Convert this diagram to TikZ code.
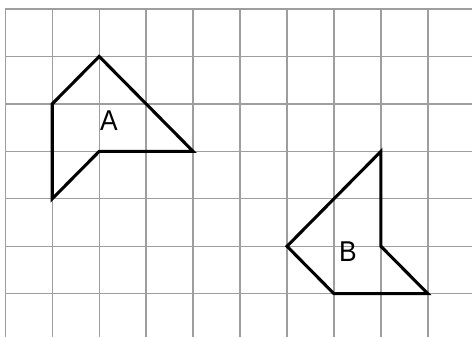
\documentclass[tikz,border=0pt]{standalone}
\usepackage{fontspec}
\setmainfont{Liberation Sans}
\definecolor{gridgray}{RGB}{158,158,158}
\begin{document}
\begin{tikzpicture}[x=0.75pt,y=-0.75pt,
  gridline/.style={draw=gridgray,line width=1pt},
  shapeline/.style={draw=black,line width=2.3pt,line join=miter},
  lbl/.style={font=\fontsize{21.5}{25}\selectfont,inner sep=0pt,xscale=0.92}]
\useasboundingbox (0,0) rectangle (472,337);
% grid
\foreach \i in {0,...,9} {
  \draw[gridline] ({5.3+46.95*\i},9) -- ({5.3+46.95*\i},337);
}
\foreach \j in {0,...,6} {
  \draw[gridline] (5.3,{9+47.45*\j}) -- (472,{9+47.45*\j});
}
% grid points helper: (col,row)
\def\gx#1{5.3+46.95*#1}
\def\gy#1{9+47.45*#1}
% shape A
\coordinate (a1) at ({\gx{1}},{\gy{2}});
\coordinate (a2) at ({\gx{2}},{\gy{1}});
\coordinate (a3) at ({\gx{4}},{\gy{3}});
\coordinate (a4) at ({\gx{2}},{\gy{3}});
\coordinate (a5) at ({\gx{1}},{\gy{4}});
\draw[shapeline] (a1) -- (a2) -- (a3) -- (a4) -- (a5) -- cycle;
% shape B
\coordinate (b1) at ({\gx{8}},{\gy{3}});
\coordinate (b2) at ({\gx{8}},{\gy{5}});
\coordinate (b3) at ({\gx{9}},{\gy{6}});
\coordinate (b4) at ({\gx{7}},{\gy{6}});
\coordinate (b5) at ({\gx{6}},{\gy{5}});
\draw[shapeline] (b1) -- (b2) -- (b3) -- (b4) -- (b5) -- cycle;
% labels
\node[lbl] (la) at (109,121) {A};
\node[lbl] (lb) at (348,252) {B};
\end{tikzpicture}
\end{document}
